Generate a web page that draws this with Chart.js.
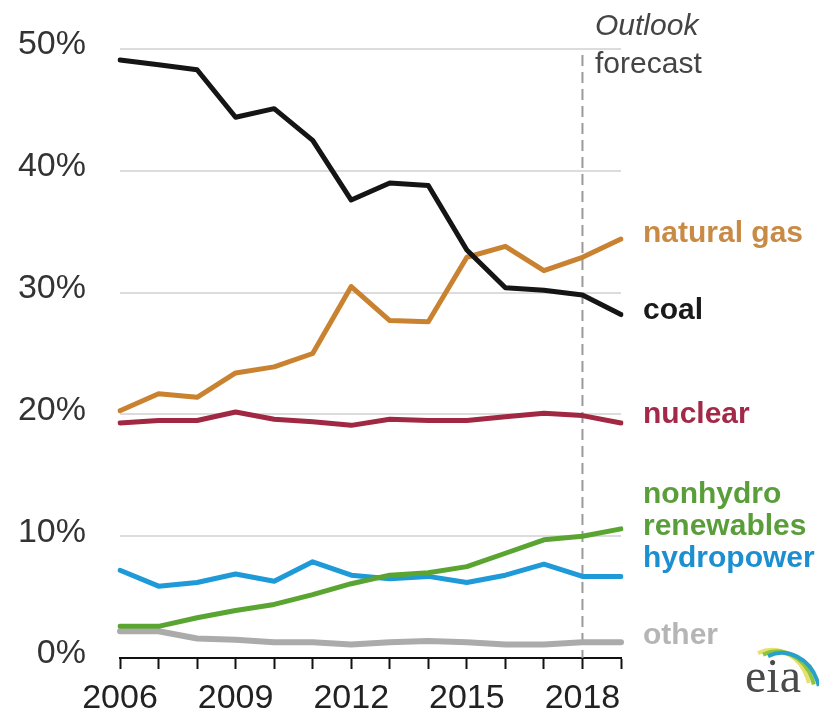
<!DOCTYPE html>
<html>
<head>
<meta charset="utf-8">
<script src="https://cdn.jsdelivr.net/npm/chart.js@4"></script>
<style>
html,body{margin:0;padding:0;background:#fff;}
#wrap{width:819px;height:717px;}
</style>
</head>
<body>
<div id="wrap"><canvas id="c" width="819" height="717"></canvas></div>
<script>
const years = ['2006','2007','2008','2009','2010','2011','2012','2013','2014','2015','2016','2017','2018','2019'];
const coal       = [49.1,48.7,48.3,44.4,45.1,42.5,37.6,39.0,38.8,33.5,30.4,30.2,29.8,28.2];
const naturalGas = [20.3,21.7,21.4,23.4,23.9,25.0,30.5,27.7,27.6,32.9,33.8,31.8,32.9,34.4];
const nuclear    = [19.3,19.5,19.5,20.2,19.6,19.4,19.1,19.6,19.5,19.5,19.8,20.1,19.9,19.3];
const hydropower = [7.2,5.9,6.2,6.9,6.3,7.9,6.8,6.5,6.7,6.2,6.8,7.7,6.7,6.7];
const nonhydro   = [2.6,2.6,3.3,3.9,4.4,5.2,6.1,6.8,7.0,7.5,8.6,9.7,10.0,10.6];
const other      = [2.2,2.2,1.6,1.5,1.3,1.3,1.1,1.3,1.4,1.3,1.1,1.1,1.3,1.3];
const shownYearTicks = ['2006','2009','2012','2015','2018'];
const yTicks = [0,10,20,30,40,50];
const forecastStart = '2018';

const FONT = "'Liberation Sans', Arial, sans-serif";

const labelsPlugin = {
  id: 'labels',
  beforeDatasetsDraw(chart) {
    const ctx = chart.ctx;
    const x = chart.scales.x.getPixelForValue(years.indexOf(forecastStart));
    ctx.save();
    ctx.strokeStyle = '#9a9a9a';
    ctx.lineWidth = 2;
    ctx.setLineDash([11, 6]);
    ctx.beginPath();
    ctx.moveTo(x, 55);
    ctx.lineTo(x, chart.scales.y.getPixelForValue(0));
    ctx.stroke();
    ctx.restore();
  },
  afterDraw(chart) {
    const ctx = chart.ctx;
    ctx.save();
    ctx.textBaseline = 'alphabetic';
    ctx.textAlign = 'left';
    ctx.fillStyle = '#444';
    ctx.font = "italic 30px " + FONT;
    ctx.fillText('Outlook', 595, 35);
    ctx.font = "30px " + FONT;
    ctx.fillText('forecast', 595, 73);

    const items = [
      ['natural gas', '#c98a45', 242],
      ['coal', '#1a1a1a', 319],
      ['nuclear', '#a3294a', 423],
      ['nonhydro', '#5a9e3a', 503],
      ['renewables', '#5a9e3a', 535],
      ['hydropower', '#1b8fd0', 567],
      ['other', '#b5b5b5', 644]
    ];
    ctx.font = "bold 30px " + FONT;
    items.forEach(([t, c, y]) => { ctx.fillStyle = c; ctx.fillText(t, 643, y); });

    // eia logo
    const arcs = [['#e8e070', 0], ['#8cc63f', 5], ['#2aa0c8', 10]];
    arcs.forEach(([c, o]) => {
      ctx.strokeStyle = c;
      ctx.lineWidth = 4;
      ctx.beginPath();
      ctx.ellipse(772 + o, 694 + o * 0.3, 38, 44, 0, -Math.PI * 0.62, -Math.PI * 0.08);
      ctx.stroke();
    });
    ctx.fillStyle = '#4a4a4a';
    ctx.font = "48px 'Liberation Serif', 'DejaVu Serif', serif";
    ctx.fillText('eia', 745, 692);
    ctx.restore();
  }
};

function ds(label, data, color, width) {
  return { label, data, borderColor: color, backgroundColor: color, borderWidth: width,
           pointRadius: 0, tension: 0, fill: false, borderCapStyle: 'round', borderJoinStyle: 'round' };
}

new Chart(document.getElementById('c'), {
  type: 'line',
  data: {
    labels: years,
    datasets: [
      ds('coal', coal, '#151515', 5),
      ds('natural gas', naturalGas, '#c98230', 5),
      ds('nuclear', nuclear, '#a02843', 5),
      ds('nonhydro renewables', nonhydro, '#5aa532', 5),
      ds('hydropower', hydropower, '#1e9ad8', 5),
      ds('other', other, '#ababab', 6)
    ]
  },
  options: {
    responsive: false,
    animation: false,
    devicePixelRatio: 1,
    layout: { padding: { top: 49, right: 198, left: 0, bottom: 0 } },
    plugins: { legend: { display: false }, tooltip: { enabled: false } },
    scales: {
      x: {
        offset: false,
        border: { display: true, color: '#111', width: 2 },
        grid: { drawOnChartArea: false, drawTicks: true, tickLength: 11, tickWidth: 2, tickColor: '#111' },
        ticks: {
          autoSkip: false, maxRotation: 0, padding: 9, color: '#222',
          font: { family: FONT, size: 34 },
          callback: function(v) { const l = years[v]; return shownYearTicks.includes(l) ? l : ''; }
        },
        afterFit: s => { s.height = 59; }
      },
      y: {
        min: 0, max: 50,
        border: { display: false },
        grid: { color: '#dcdcdc', lineWidth: 2, drawTicks: false },
        afterBuildTicks: s => { s.ticks = yTicks.map(v => ({ value: v })); },
        ticks: {
          padding: 34, color: '#333', labelOffset: -4,
          font: { family: FONT, size: 34 },
          callback: v => v + '%'
        },
        afterFit: s => { s.width = 120; s.paddingTop = 0; s.paddingBottom = 0; }
      }
    }
  },
  plugins: [labelsPlugin]
});
</script>
</body>
</html>
